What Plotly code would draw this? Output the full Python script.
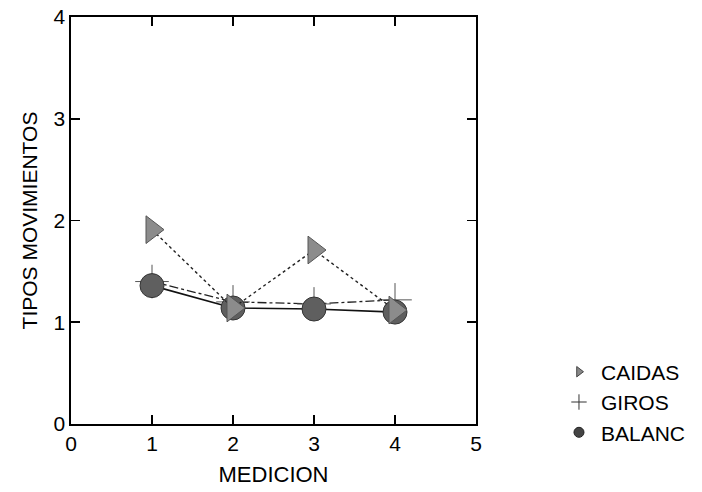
import plotly.graph_objects as go

medicion = [1, 2, 3, 4]
caidas = [1.91, 1.14, 1.71, 1.12]
giros = [1.40, 1.20, 1.18, 1.22]
balanc = [1.36, 1.14, 1.13, 1.10]

x_ticks = [0, 1, 2, 3, 4, 5]
y_ticks = [0, 1, 2, 3, 4]

FONT = "Liberation Sans, Arial, Helvetica"

fig = go.Figure()

fig.add_trace(go.Scatter(x=medicion, y=giros, mode="lines+markers", showlegend=False,
    line=dict(color="#222", width=1.3, dash="dashdot"),
    marker=dict(symbol="cross-thin", size=24, line=dict(color="#555", width=1))))
fig.add_trace(go.Scatter(x=medicion, y=balanc, mode="lines+markers", showlegend=False,
    line=dict(color="#111", width=1.6, dash="solid"),
    marker=dict(symbol="circle", size=24, color="#5f5f5f", line=dict(color="#333", width=1))))
fig.add_trace(go.Scatter(x=medicion, y=caidas, mode="lines+markers", showlegend=False,
    line=dict(color="#222", width=1.4, dash="dot"),
    marker=dict(symbol="triangle-right", size=24, color="#8c8c8c", line=dict(color="#555", width=1))))

# legend entries
fig.add_trace(go.Scatter(x=[None], y=[None], mode="markers", name="CAIDAS",
    marker=dict(symbol="triangle-right", size=9, color="#888", line=dict(color="#444", width=1))))
fig.add_trace(go.Scatter(x=[None], y=[None], mode="markers", name="GIROS",
    marker=dict(symbol="cross-thin", size=11, line=dict(color="#333", width=1))))
fig.add_trace(go.Scatter(x=[None], y=[None], mode="markers", name="BALANC",
    marker=dict(symbol="circle", size=10, color="#444", line=dict(color="#222", width=1))))

axis_common = dict(showgrid=False, zeroline=False, showline=True, linecolor="black", linewidth=1.6,
                   mirror="allticks", ticks="inside", ticklen=9, tickwidth=1.6, tickcolor="black",
                   automargin=False, ticklabeloverflow="allow",
                   tickfont=dict(family=FONT, size=21, color="black"))

fig.update_xaxes(range=[0, 5], tickvals=x_ticks,
                 title=dict(text="MEDICION", font=dict(family=FONT, size=22, color="black"), standoff=13),
                 **axis_common)
fig.update_yaxes(range=[0, 4], tickvals=y_ticks,
                 title=dict(text="TIPOS MOVIMIENTOS", font=dict(family=FONT, size=21, color="black"), standoff=10),
                 **axis_common)

fig.update_layout(
    width=702, height=492,
    margin=dict(l=71, r=225, t=17, b=68),
    paper_bgcolor="white", plot_bgcolor="white",
    font=dict(family=FONT, color="black"),
    legend=dict(x=1.197, y=0.178, xanchor="left", yanchor="top",
                font=dict(family=FONT, size=21, color="black"), itemwidth=34, tracegroupgap=0,
                bgcolor="rgba(0,0,0,0)"),
)

# remove the default 8px page margin so the figure sits at the window's corner
fig.write_html("out.html", config={"displayModeBar": False, "staticPlot": True},
               post_script="document.body.style.margin='0px';document.body.style.overflow='hidden';")
